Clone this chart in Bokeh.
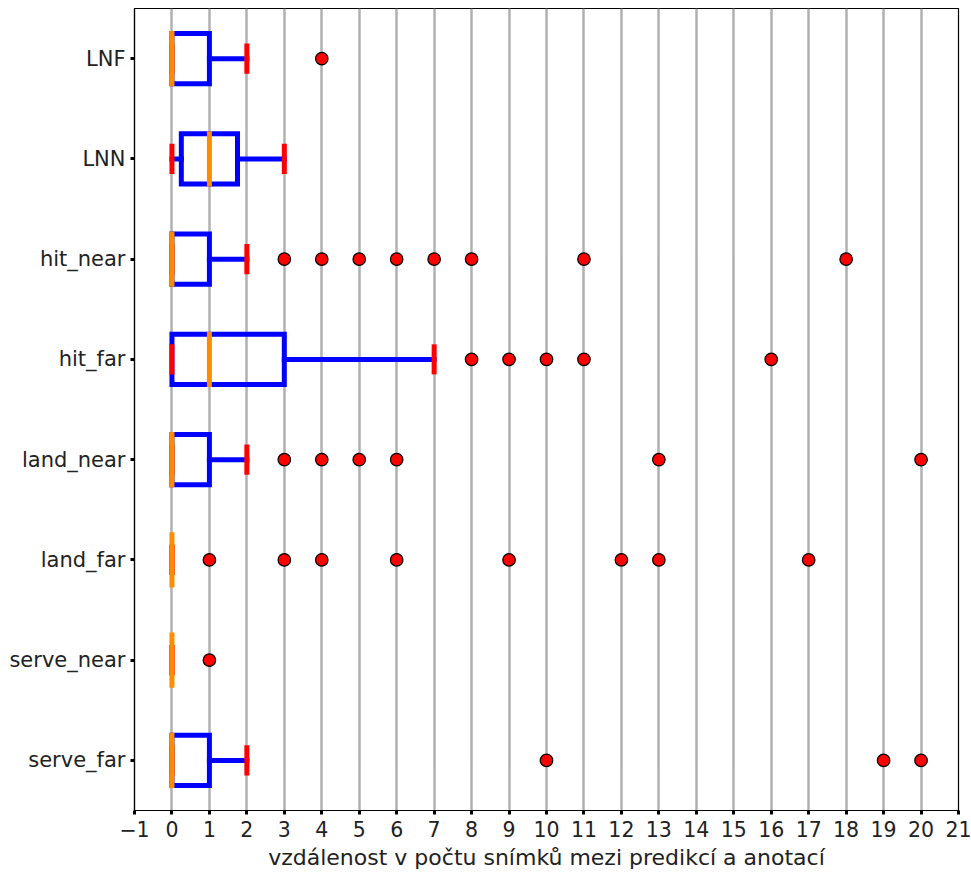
from bokeh.plotting import figure
from bokeh.models import ColumnDataSource, FixedTicker, Range1d
from bokeh.embed import file_html
from bokeh.resources import INLINE

# categories from bottom to top
categories = ["serve_far", "serve_near", "land_far", "land_near", "hit_far", "hit_near", "LNN", "LNF"]
whisker_lo = [0, 0, 0, 0, 0, 0, 0, 0]
q1 = [0, 0, 0, 0, 0, 0, 0.25, 0]
median = [0, 0, 0, 0, 1, 0, 1, 0]
q3 = [1, 0, 0, 1, 3, 1, 1.75, 1]
whisker_hi = [2, 0, 0, 2, 7, 2, 3, 2]
outliers = [
    [10, 19, 20],
    [1],
    [1, 3, 4, 6, 9, 12, 13, 17],
    [3, 4, 5, 6, 13, 20],
    [8, 9, 10, 11, 16],
    [3, 4, 5, 6, 7, 8, 11, 18],
    [],
    [4],
]
x_ticks = list(range(-1, 22))

FONT = "DejaVu Sans"
BOX_W = 0.5
CAP_W = 0.25
LW = 5

pos = [i + 1 for i in range(len(categories))]

p = figure(width=971, height=874, output_backend="svg", toolbar_location=None,
           x_range=Range1d(-1, 21), y_range=Range1d(0.5, 8.5),
           min_border_left=134, min_border_right=13, min_border_top=8, min_border_bottom=64)

p.background_fill_color = "white"
p.border_fill_color = "white"
p.outline_line_color = "black"
p.outline_line_width = 1.2

# grid
p.ygrid.grid_line_color = None
p.xgrid.grid_line_color = "#b0b0b0"
p.xgrid.grid_line_width = 2.5
p.xgrid.ticker = FixedTicker(ticks=x_ticks)

# boxes (outline)
has_box = [i for i in range(len(pos)) if q3[i] > q1[i]]
box_src = ColumnDataSource(dict(left=[q1[i] for i in has_box], right=[q3[i] for i in has_box],
                                bottom=[pos[i] - BOX_W / 2 for i in has_box],
                                top=[pos[i] + BOX_W / 2 for i in has_box]))
p.quad(left="left", right="right", bottom="bottom", top="top", source=box_src,
       fill_alpha=0, line_color="#0000ff", line_width=LW, line_join="miter")

# whiskers
wx0, wx1, wy = [], [], []
for i, y in enumerate(pos):
    if whisker_hi[i] > q3[i]:
        wx0.append(q3[i]); wx1.append(whisker_hi[i]); wy.append(y)
    if whisker_lo[i] < q1[i]:
        wx0.append(whisker_lo[i]); wx1.append(q1[i]); wy.append(y)
p.segment(x0=wx0, y0=wy, x1=wx1, y1=wy, line_color="#0000ff", line_width=LW, line_cap="square")

# caps
cx, cy0, cy1 = [], [], []
for i, y in enumerate(pos):
    for v in (whisker_lo[i], whisker_hi[i]):
        cx.append(v); cy0.append(y - CAP_W / 2); cy1.append(y + CAP_W / 2)
p.segment(x0=cx, y0=cy0, x1=cx, y1=cy1, line_color="#ff0000", line_width=LW, line_cap="square")

# medians
p.segment(x0=median, y0=[y - BOX_W / 2 for y in pos], x1=median, y1=[y + BOX_W / 2 for y in pos],
          line_color="#ff8c00", line_width=LW, line_cap="square")

# outliers
ox, oy = [], []
for i, y in enumerate(pos):
    for v in outliers[i]:
        ox.append(v); oy.append(y)
p.scatter(x=ox, y=oy, size=12.5, fill_color="#ff0000", line_color="black", line_width=1.2)

# axes
p.xaxis.ticker = FixedTicker(ticks=x_ticks)
p.xaxis.major_label_overrides = {t: (str(t).replace("-", "\u2212")) for t in x_ticks}
p.yaxis.ticker = FixedTicker(ticks=pos)
p.yaxis.major_label_overrides = {y: c for y, c in zip(pos, categories)}
p.xaxis.axis_label = "vzdálenost v počtu snímků mezi predikcí a anotací"

for ax in (p.xaxis[0], p.yaxis[0]):
    ax.axis_line_color = "black"
    ax.axis_line_width = 1.2
    ax.major_tick_line_color = "black"
    ax.major_tick_line_width = 3
    ax.major_tick_out = 4
    ax.major_tick_in = 0
    ax.minor_tick_line_color = None
    ax.major_label_text_font = FONT
    ax.major_label_text_color = "#222222"
    ax.axis_label_text_font = FONT
    ax.axis_label_text_font_style = "normal"
    ax.axis_label_text_color = "#222222"
p.xaxis.major_label_text_font_size = "20.5px"
p.yaxis.major_label_text_font_size = "21px"
p.xaxis.axis_label_text_font_size = "22px"
p.xaxis.major_label_standoff = 6
p.yaxis.major_label_standoff = 5
p.xaxis.axis_label_standoff = 5

open("out.html", "w").write(file_html(p, INLINE))
